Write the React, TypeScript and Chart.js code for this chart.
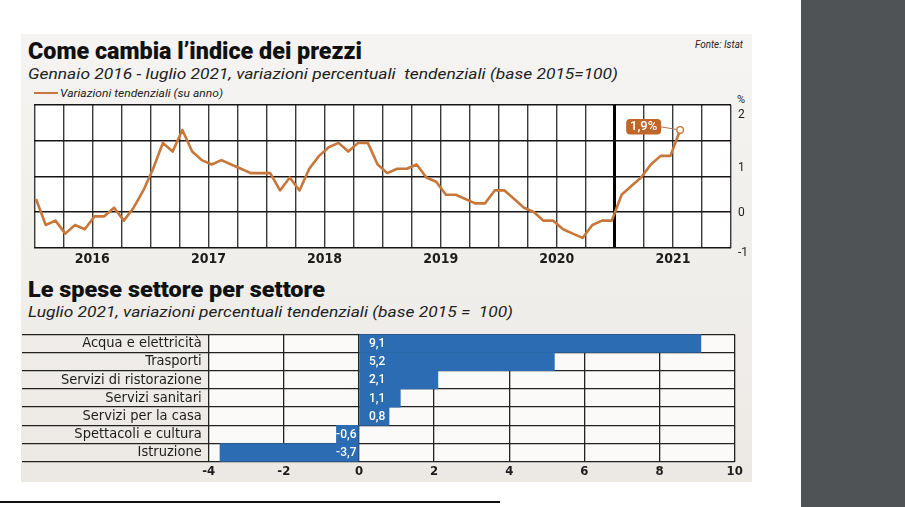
import React, { useEffect, useLayoutEffect, useRef } from 'react';
import { Chart, registerables } from 'chart.js';

Chart.register(...registerables);

// ---------- DATA ----------
// Monthly year-on-year CPI change, Jan 2016 .. Jul 2021 (%)
const inflation2016 = [0.3, -0.3, -0.2, -0.5, -0.3, -0.4, -0.1, -0.1, 0.1, -0.2, 0.1, 0.5];
const inflation2017 = [1.0, 1.6, 1.4, 1.9, 1.4, 1.2, 1.1, 1.2, 1.1, 1.0, 0.9, 0.9];
const inflation2018 = [0.9, 0.5, 0.8, 0.5, 1.0, 1.3, 1.5, 1.6, 1.4, 1.6, 1.6, 1.1];
const inflation2019 = [0.9, 1.0, 1.0, 1.1, 0.8, 0.7, 0.4, 0.4, 0.3, 0.2, 0.2, 0.5];
const inflation2020 = [0.5, 0.3, 0.1, 0.0, -0.2, -0.2, -0.4, -0.5, -0.6, -0.3, -0.2, -0.2];
const inflation2021 = [0.4, 0.6, 0.8, 1.1, 1.3, 1.3, 1.9];
const inflation = [
  ...inflation2016, ...inflation2017, ...inflation2018,
  ...inflation2019, ...inflation2020, ...inflation2021,
];
const yearLabels = ['2016', '2017', '2018', '2019', '2020', '2021'];
const yAxisLabels = ['-1', '0', '1', '2'];
const yAxisLabelValues = [-0.95, -0.02, 1.02, 2.25];

const sectors = [
  'Acqua e elettricità',
  'Trasporti',
  'Servizi di ristorazione',
  'Servizi sanitari',
  'Servizi per la casa',
  'Spettacoli e cultura',
  'Istruzione',
];
const sectorValues = [9.1, 5.2, 2.1, 1.1, 0.8, -0.6, -3.7];

// ---------- STYLE ----------
const ORANGE = '#c8773b';
const BLUE = '#2b6cb2';
const INK = '#1c1c1c';
const NARROW = "'Liberation Sans Narrow', 'Arial Narrow', 'DejaVu Sans Condensed', Roboto, sans-serif";

const X_MIN = -0.174;
const X_MAX = 71.21;
const Y_MIN = -0.833;
const Y_MAX = 2.477;

const fmt = (v: number) => v.toFixed(1).replace('.', ',');

const areaBg = (color: string) => ({
  id: 'areaBg' + color.replace('#', ''),
  beforeDraw(chart: any) {
    const { ctx, chartArea: a } = chart;
    ctx.save();
    ctx.fillStyle = color;
    ctx.fillRect(a.left, a.top, a.right - a.left, a.bottom - a.top);
    ctx.restore();
  },
});

const calloutPlugin = {
  id: 'callout',
  afterDatasetsDraw(chart: any) {
    const meta = chart.getDatasetMeta(0);
    const last = meta.data[meta.data.length - 1];
    if (!last) return;
    const px = last.x;
    const py = last.y;
    const ctx = chart.ctx;
    const text = fmt(inflation[inflation.length - 1]) + '%';
    ctx.save();
    ctx.strokeStyle = '#a8765a';
    ctx.lineWidth = 1;
    ctx.beginPath();
    ctx.moveTo(px - 19, py - 3);
    ctx.lineTo(px - 3.5, py - 0.5);
    ctx.stroke();
    const bx = px - 54;
    const by = py - 11;
    const bw = 35;
    const bh = 15.5;
    ctx.fillStyle = '#c0652b';
    ctx.beginPath();
    (ctx as any).roundRect(bx, by, bw, bh, 4);
    ctx.fill();
    ctx.fillStyle = '#ffffff';
    ctx.font = "500 13px Roboto, sans-serif";
    ctx.textAlign = 'center';
    ctx.textBaseline = 'middle';
    ctx.fillText(text, bx + bw / 2, by + bh / 2 + 0.5);
    ctx.beginPath();
    ctx.arc(px, py, 3.3, 0, Math.PI * 2);
    ctx.fillStyle = '#fff';
    ctx.fill();
    ctx.strokeStyle = ORANGE;
    ctx.lineWidth = 1.4;
    ctx.stroke();
    ctx.restore();
  },
};

const barLabelPlugin = {
  id: 'barLabels',
  afterDatasetsDraw(chart: any) {
    const meta = chart.getDatasetMeta(0);
    const zero = chart.scales.x.getPixelForValue(0);
    const ctx = chart.ctx;
    ctx.save();
    ctx.fillStyle = '#ffffff';
    ctx.font = "500 12px Roboto, sans-serif";
    ctx.textBaseline = 'middle';
    meta.data.forEach((bar: any, i: number) => {
      const v = sectorValues[i];
      if (v >= 0) {
        ctx.textAlign = 'left';
        ctx.fillText(fmt(v), zero + 10, bar.y + 0.5);
      } else {
        ctx.textAlign = 'right';
        ctx.fillText(fmt(v), zero - 2.5, bar.y + 0.5);
      }
    });
    ctx.restore();
  },
};

function FitText(props: { text: string; left: number; top: number; width: number; style: React.CSSProperties }) {
  const ref = useRef<HTMLSpanElement>(null);
  useLayoutEffect(() => {
    const el = ref.current;
    if (!el) return;
    const fit = () => {
      el.style.transform = 'none';
      const w = el.getBoundingClientRect().width;
      if (w > 0) el.style.transform = `scaleX(${props.width / w})`;
    };
    fit();
    const f: any = (document as any).fonts;
    if (f && f.ready) f.ready.then(fit);
  }, [props.text, props.width]);
  return (
    <span
      ref={ref}
      style={{
        position: 'absolute',
        left: props.left,
        top: props.top,
        whiteSpace: 'pre',
        display: 'inline-block',
        transformOrigin: '0 0',
        lineHeight: 1,
        ...props.style,
      }}
    >
      {props.text}
    </span>
  );
}

function LineChart() {
  const ref = useRef<HTMLCanvasElement>(null);
  useEffect(() => {
    if (!ref.current) return;
    const chart = new Chart(ref.current, {
      type: 'line',
      data: {
        datasets: [
          {
            data: inflation.map((v, i) => ({ x: i, y: v })),
            borderColor: ORANGE,
            borderWidth: 2.6,
            pointRadius: 0,
            tension: 0,
            borderJoinStyle: 'round',
            xAxisID: 'x',
            yAxisID: 'y',
          } as any,
        ],
      },
      options: {
        responsive: false,
        animation: false,
        devicePixelRatio: 1,
        layout: { padding: { left: 14.3, top: 21, right: 0, bottom: 4 } },
        plugins: { legend: { display: false }, tooltip: { enabled: false } },
        scales: {
          x: {
            type: 'linear',
            min: X_MIN,
            max: X_MAX,
            afterBuildTicks: (s: any) => {
              const t = [];
              for (let k = 0; k <= 24; k++) t.push({ value: X_MIN + (k * (X_MAX - X_MIN)) / 24 });
              s.ticks = t;
            },
            ticks: {
              autoSkip: false,
              maxRotation: 0,
              padding: 3,
              color: INK,
              font: { family: NARROW, size: 14, weight: 'bold' },
              callback: (_v: any, i: number) => (i % 4 === 2 ? yearLabels[(i - 2) / 4] ?? '' : ''),
            },
            grid: {
              color: (c: any) => (c.index === 20 ? '#000' : '#3a3a3a'),
              lineWidth: (c: any) => (c.index === 20 ? 3 : 1.4),
              drawTicks: false,
            },
            border: { display: false },
            afterFit: (s: any) => {
              s.height = 22;
            },
          } as any,
          y: {
            position: 'left',
            min: Y_MIN,
            max: Y_MAX,
            afterBuildTicks: (s: any) => {
              const t = [];
              for (let k = 0; k <= 4; k++) t.push({ value: Y_MIN + (k * (Y_MAX - Y_MIN)) / 4 });
              s.ticks = t;
            },
            ticks: { display: false },
            grid: { color: '#151515', lineWidth: 1.6, drawTicks: false },
            border: { display: false },
            afterFit: (s: any) => {
              s.width = 0;
            },
          } as any,
          y2: {
            position: 'right',
            min: Y_MIN,
            max: Y_MAX,
            afterBuildTicks: (s: any) => {
              s.ticks = yAxisLabelValues.map((v) => ({ value: v }));
            },
            ticks: {
              autoSkip: false,
              padding: 7,
              color: INK,
              font: { family: 'Roboto, sans-serif', size: 12 },
              callback: (_v: any, i: number) => yAxisLabels[i],
            },
            grid: { display: false, drawTicks: false },
            border: { display: false },
            afterFit: (s: any) => {
              s.width = 29;
            },
          } as any,
        },
      },
      plugins: [areaBg('#ffffff'), calloutPlugin],
    });
    return () => chart.destroy();
  }, []);
  return (
    <canvas
      ref={ref}
      width={740}
      height={190}
      style={{ position: 'absolute', left: 20, top: 84, width: 740, height: 190, display: 'block' }}
    />
  );
}

function BarChart() {
  const ref = useRef<HTMLCanvasElement>(null);
  useEffect(() => {
    if (!ref.current) return;
    const chart = new Chart(ref.current, {
      type: 'bar',
      data: {
        labels: sectors,
        datasets: [
          {
            data: sectorValues,
            backgroundColor: BLUE,
            borderWidth: 0,
            barPercentage: 1,
            categoryPercentage: 1,
          },
        ],
      },
      options: {
        indexAxis: 'y',
        responsive: false,
        animation: false,
        devicePixelRatio: 1,
        layout: { padding: { left: 0, right: 25.3, top: 8.3, bottom: 0 } },
        plugins: { legend: { display: false }, tooltip: { enabled: false } },
        scales: {
          x: {
            min: -4,
            max: 10,
            ticks: {
              stepSize: 2,
              padding: 2,
              color: INK,
              font: { family: NARROW, size: 13, weight: 'bold' },
            },
            grid: { color: '#222', lineWidth: 1.3, drawTicks: false },
            border: { display: false },
            afterFit: (s: any) => {
              s.height = 20.3;
            },
          } as any,
          y: {
            grid: { color: '#222', lineWidth: 1.3, drawTicks: true, tickLength: 186.7, offset: true },
            ticks: {
              padding: -179.7,
              color: INK,
              font: { family: NARROW, size: 14.5 },
              autoSkip: false,
            },
            border: { display: false },
            afterFit: (s: any) => {
              s.width = 188.7;
            },
          } as any,
        },
      },
      plugins: [areaBg('#fbfaf8'), barLabelPlugin],
    });
    return () => chart.destroy();
  }, []);
  return (
    <canvas
      ref={ref}
      width={740}
      height={156}
      style={{ position: 'absolute', left: 20, top: 326, width: 740, height: 156, display: 'block' }}
    />
  );
}

export default function App() {
  const titleFont: React.CSSProperties = { fontFamily: 'Roboto, sans-serif', fontWeight: 900, color: '#111' };
  const subFont: React.CSSProperties = { fontFamily: 'Roboto, sans-serif', fontStyle: 'italic', color: '#222' };
  return (
    <div
      style={{
        position: 'absolute',
        left: 0,
        top: 0,
        width: 905,
        height: 507,
        background: '#ffffff',
        overflow: 'hidden',
      }}
    >
      <div style={{ position: 'absolute', left: 801, top: 0, width: 104, height: 507, background: '#505355' }} />
      <div style={{ position: 'absolute', left: 0, top: 501, width: 500, height: 2, background: '#111' }} />
      <div
        style={{
          position: 'absolute',
          left: 21,
          top: 34,
          width: 731,
          height: 448,
          background: 'linear-gradient(#f5f4f2, #ece9e5)',
        }}
      />
      <FitText text="Come cambia l’indice dei prezzi" left={28} top={40} width={334} style={{ ...titleFont, fontSize: 23 }} />
      <FitText
        text="Gennaio 2016 - luglio 2021, variazioni percentuali  tendenziali (base 2015=100)"
        left={28}
        top={66.5}
        width={590}
        style={{ ...subFont, fontSize: 15 }}
      />
      <FitText text="Fonte: Istat" left={695} top={40} width={48} style={{ ...subFont, fontSize: 10 }} />
      <div style={{ position: 'absolute', left: 34, top: 92, width: 24, height: 2, background: ORANGE }} />
      <FitText
        text="Variazioni tendenziali (su anno)"
        left={60}
        top={87.5}
        width={163}
        style={{ ...subFont, fontSize: 11 }}
      />
      <span
        style={{
          position: 'absolute',
          left: 737,
          top: 94,
          fontFamily: 'Roboto, sans-serif',
          fontSize: 11,
          lineHeight: 1,
          color: INK,
        }}
      >
        %
      </span>
      <LineChart />
      <FitText text="Le spese settore per settore" left={28} top={279} width={297} style={{ ...titleFont, fontSize: 22 }} />
      <FitText
        text="Luglio 2021, variazioni percentuali tendenziali (base 2015 =  100)"
        left={28}
        top={305}
        width={485}
        style={{ ...subFont, fontSize: 15 }}
      />
      <BarChart />
    </div>
  );
}
